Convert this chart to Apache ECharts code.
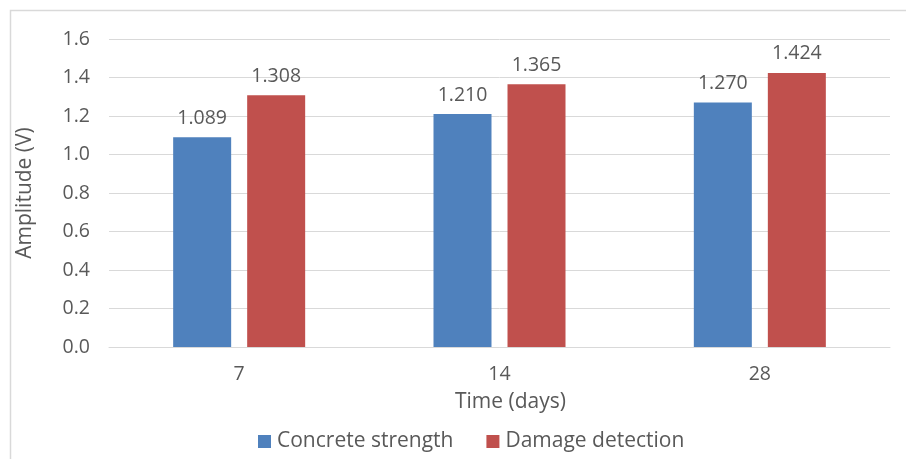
<!DOCTYPE html>
<html>
<head>
<meta charset="utf-8">
<script src="https://cdn.jsdelivr.net/npm/echarts@6/dist/echarts.min.js"></script>
<style>
  html, body { margin: 0; padding: 0; background: #ffffff; }
  #chart { width: 906px; height: 459px; }
</style>
</head>
<body>
<div id="chart"></div>
<script>
// Curing time in days
const categories = ['7', '14', '28'];
// Measured amplitudes (V)
const concreteStrength = [1.089, 1.210, 1.270];
const damageDetection = [1.308, 1.365, 1.424];
// Value axis ticks
const yTicks = [0.0, 0.2, 0.4, 0.6, 0.8, 1.0, 1.2, 1.4, 1.6];

const FONT = '"Open Sans", sans-serif';
const TEXT = '#595959';

const chart = echarts.init(document.getElementById('chart'), null, { renderer: 'canvas' });

const labelStyle = {
  show: true,
  position: 'top',
  distance: 9,
  color: TEXT,
  fontFamily: FONT,
  fontSize: 19.5,
  formatter: p => p.value.toFixed(3)
};

chart.setOption({
  animation: false,
  backgroundColor: '#ffffff',
  graphic: [{
    type: 'rect',
    shape: { x: 10.5, y: 10.5, width: 920, height: 480 },
    style: { fill: 'none', stroke: '#d9d9d9', lineWidth: 1.5 },
    silent: true,
    z: -1
  }],
  grid: { left: 109, right: 16, top: 39, bottom: 112 },
  legend: {
    bottom: 2,
    left: 253,
    itemWidth: 13,
    itemHeight: 13,
    itemGap: 33,
    icon: 'rect',
    textStyle: { color: TEXT, fontFamily: FONT, fontSize: 21, padding: [0, 0, 0, 1] },
    data: ['Concrete strength', 'Damage detection']
  },
  xAxis: {
    type: 'category',
    data: categories,
    name: 'Time (days)',
    nameLocation: 'middle',
    nameGap: 45,
    nameTextStyle: { color: TEXT, fontFamily: FONT, fontSize: 21, padding: [0, 0, 0, 22] },
    axisLine: { show: true, lineStyle: { color: '#d9d9d9', width: 1 } },
    axisTick: { show: false },
    axisLabel: { color: TEXT, fontFamily: FONT, fontSize: 19.5, margin: 17 }
  },
  yAxis: {
    type: 'value',
    min: 0,
    max: yTicks[yTicks.length - 1],
    interval: yTicks[1] - yTicks[0],
    name: 'Amplitude (V)',
    nameLocation: 'middle',
    nameGap: 73,
    nameTextStyle: { color: TEXT, fontFamily: FONT, fontSize: 21 },
    axisLine: { show: false },
    axisTick: { show: false },
    axisLabel: { color: TEXT, fontFamily: FONT, fontSize: 19.5, margin: 19, formatter: v => v.toFixed(1) },
    splitLine: { lineStyle: { color: '#d9d9d9', width: 1 } }
  },
  series: [
    {
      name: 'Concrete strength',
      type: 'bar',
      data: concreteStrength,
      barWidth: 58,
      barGap: '27.6%',
      itemStyle: { color: '#4F81BD' },
      label: labelStyle
    },
    {
      name: 'Damage detection',
      type: 'bar',
      data: damageDetection,
      barWidth: 58,
      barGap: '27.6%',
      itemStyle: { color: '#C0504D' },
      label: labelStyle
    }
  ]
});
</script>
</body>
</html>
